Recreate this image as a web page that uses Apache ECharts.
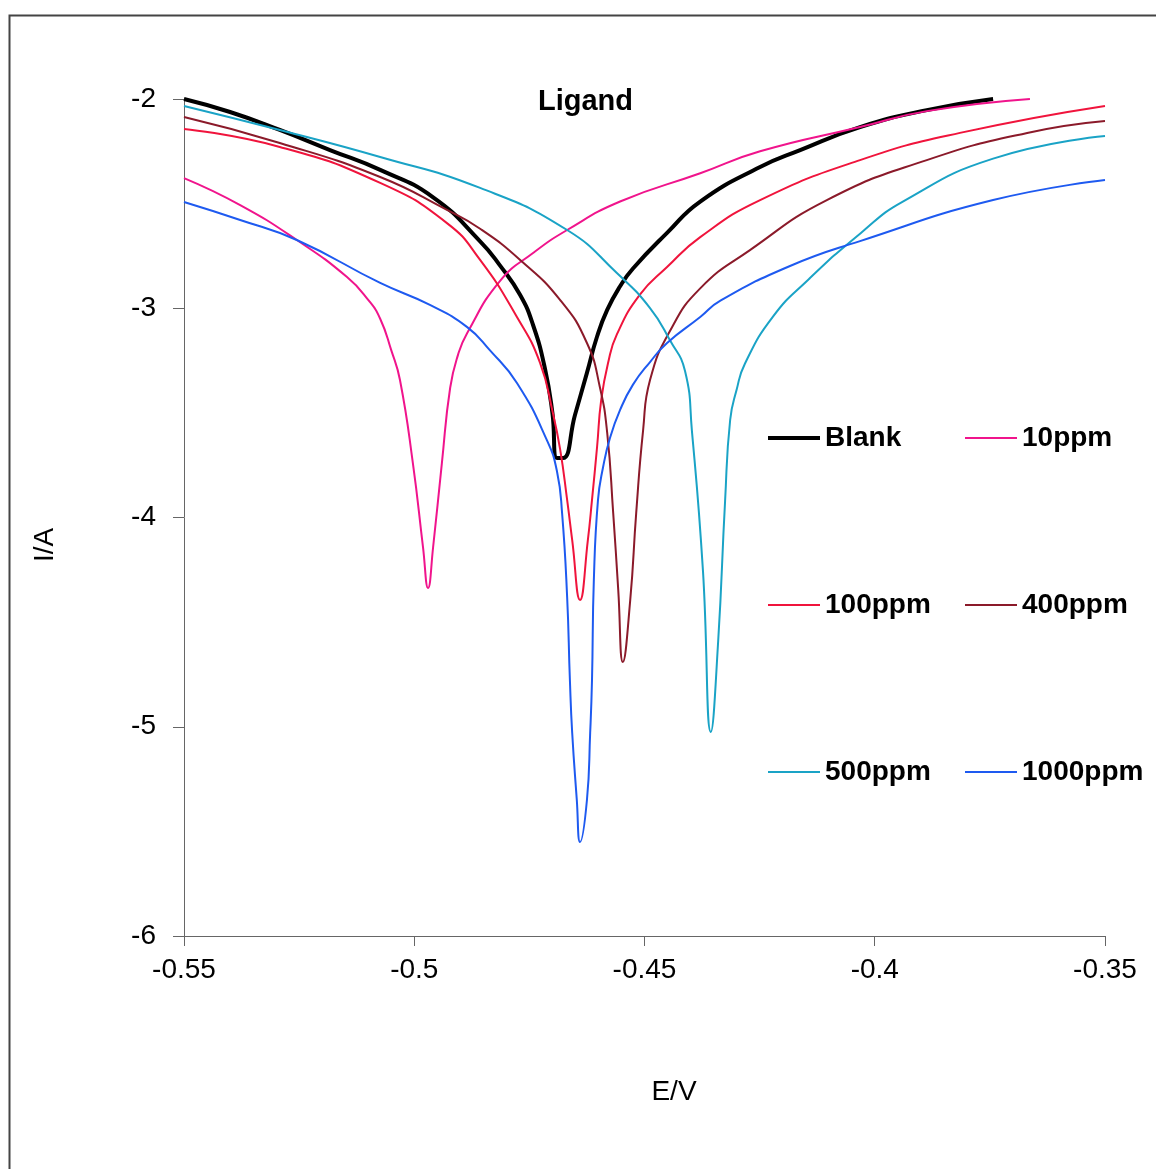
<!DOCTYPE html>
<html><head><meta charset="utf-8">
<script src="https://cdn.jsdelivr.net/npm/echarts@6/dist/echarts.min.js"></script>
<style>html,body{margin:0;padding:0;background:#fff}#c{width:1156px;height:1169px}</style>
</head><body><div id="c"></div>
<script>
const xTicks = [-0.55, -0.5, -0.45, -0.4, -0.35];
const yTicks = [-6, -5, -4, -3, -2];
const seriesNames = ['Blank', '10ppm', '100ppm', '400ppm', '500ppm', '1000ppm'];

const blank = [[-0.55,-2.0],[-0.540,-2.062],[-0.5292,-2.148],[-0.5183,-2.244],[-0.5074,-2.339],[-0.4959,-2.470],[-0.4857,-2.680],[-0.4814,-2.795],[-0.4770,-2.937],[-0.4742,-3.080],[-0.4716,-3.290],[-0.4700,-3.500],[-0.4690,-3.716],[-0.4677,-3.716],[-0.4651,-3.510],[-0.4625,-3.309],[-0.4603,-3.135],[-0.4581,-3.008],[-0.4553,-2.895],[-0.4525,-2.810],[-0.4451,-2.640],[-0.4379,-2.490],[-0.4249,-2.325],[-0.4162,-2.244],[-0.4032,-2.134],[-0.3887,-2.053],[-0.3743,-2.0]];
const ppm10 = [[-0.55,-2.378],[-0.5378,-2.507],[-0.5255,-2.674],[-0.5146,-2.851],[-0.5100,-2.960],[-0.5074,-3.050],[-0.5050,-3.200],[-0.5031,-3.343],[-0.5003,-3.740],[-0.4981,-4.141],[-0.4970,-4.337],[-0.4959,-4.141],[-0.4940,-3.740],[-0.4922,-3.380],[-0.4905,-3.223],[-0.4885,-3.118],[-0.4814,-2.870],[-0.4742,-2.736],[-0.4668,-2.626],[-0.4553,-2.490],[-0.4379,-2.355],[-0.4249,-2.250],[-0.4032,-2.134],[-0.3887,-2.058],[-0.3663,-2.0]];
const ppm100 = [[-0.55,-2.143],[-0.5292,-2.229],[-0.5074,-2.401],[-0.4929,-2.593],[-0.4857,-2.769],[-0.4777,-3.042],[-0.4727,-3.260],[-0.4699,-3.500],[-0.4683,-3.677],[-0.4668,-3.916],[-0.4657,-4.108],[-0.4640,-4.394],[-0.4623,-4.108],[-0.4614,-3.916],[-0.4603,-3.663],[-0.4594,-3.438],[-0.4579,-3.260],[-0.4560,-3.125],[-0.4510,-2.935],[-0.4451,-2.803],[-0.4379,-2.660],[-0.4249,-2.483],[-0.4032,-2.292],[-0.3815,-2.162],[-0.35,-2.033]];
const ppm400 = [[-0.55,-2.086],[-0.5292,-2.210],[-0.5074,-2.373],[-0.4929,-2.530],[-0.4857,-2.620],[-0.4770,-2.769],[-0.4683,-2.961],[-0.4625,-3.166],[-0.4597,-3.376],[-0.4581,-3.596],[-0.4568,-3.978],[-0.4557,-4.347],[-0.4547,-4.691],[-0.4531,-4.395],[-0.4518,-3.978],[-0.4503,-3.582],[-0.4488,-3.343],[-0.4445,-3.110],[-0.4379,-2.905],[-0.4271,-2.722],[-0.4104,-2.483],[-0.3887,-2.292],[-0.3669,-2.162],[-0.35,-2.105]];
const ppm500 = [[-0.55,-2.033],[-0.5292,-2.148],[-0.5074,-2.277],[-0.4857,-2.425],[-0.4668,-2.626],[-0.4560,-2.832],[-0.4488,-2.999],[-0.4445,-3.152],[-0.4412,-3.300],[-0.4397,-3.587],[-0.4373,-4.256],[-0.4356,-5.025],[-0.4340,-4.590],[-0.4325,-3.921],[-0.4314,-3.534],[-0.4300,-3.390],[-0.4282,-3.265],[-0.4221,-3.040],[-0.4145,-2.865],[-0.4030,-2.640],[-0.3939,-2.490],[-0.3743,-2.285],[-0.35,-2.177]];
const ppm1000 = [[-0.55,-2.492],[-0.5378,-2.578],[-0.5255,-2.674],[-0.5074,-2.879],[-0.4966,-2.984],[-0.4885,-3.090],[-0.4836,-3.200],[-0.4777,-3.357],[-0.4712,-3.630],[-0.4690,-3.780],[-0.4679,-3.978],[-0.4668,-4.380],[-0.4662,-4.777],[-0.4657,-5.030],[-0.4647,-5.350],[-0.4640,-5.551],[-0.4625,-5.350],[-0.4618,-5.030],[-0.4614,-4.777],[-0.4610,-4.299],[-0.4601,-3.916],[-0.4590,-3.760],[-0.4575,-3.620],[-0.4553,-3.486],[-0.4525,-3.365],[-0.4488,-3.257],[-0.4451,-3.166],[-0.4379,-3.042],[-0.4336,-2.965],[-0.4184,-2.798],[-0.4032,-2.679],[-0.3743,-2.483],[-0.35,-2.387]];

const dataSets = [blank, ppm10, ppm100, ppm400, ppm500, ppm1000];
const colors = ['#000000', '#f0148c', '#f0143c', '#8b1a2a', '#1aa3c6', '#1e5af0'];
const widths = [4, 2, 2, 2, 2, 2];
const FONT = '"Liberation Sans", Arial, sans-serif';

const legendPos = [[768, 424], [965, 424], [768, 591], [965, 591], [768, 758], [965, 758]];

const chart = echarts.init(document.getElementById('c'), null, {renderer: 'canvas'});
chart.setOption({
  animation: false,
  backgroundColor: '#fff',
  textStyle: {fontFamily: FONT},
  title: {text: 'Ligand', left: 533, top: 82, textStyle: {fontFamily: FONT, fontSize: 29, fontWeight: 'bold', color: '#000'}},
  grid: {left: 184, top: 99, right: 51, bottom: 233, containLabel: false},
  xAxis: {
    type: 'value', min: xTicks[0], max: xTicks[xTicks.length - 1], interval: 0.05,
    axisLine: {onZero: false, lineStyle: {color: '#666', width: 1}},
    axisTick: {length: 10, lineStyle: {color: '#666'}},
    splitLine: {show: false},
    axisLabel: {margin: 20, fontSize: 28, color: '#000', fontFamily: FONT,
      formatter: v => String(+(+v).toFixed(2))}
  },
  yAxis: {
    type: 'value', min: yTicks[0], max: yTicks[yTicks.length - 1], interval: 1,
    axisLine: {onZero: false, lineStyle: {color: '#666', width: 1}},
    axisTick: {length: 11, lineStyle: {color: '#666'}},
    splitLine: {show: false},
    axisLabel: {margin: 28, fontSize: 28, color: '#000', fontFamily: FONT}
  },
  legend: seriesNames.map((n, i) => ({
    data: [{name: n, icon: 'rect'}],
    left: legendPos[i][0], top: legendPos[i][1],
    itemWidth: 52, itemHeight: widths[i] === 4 ? 4 : 2, padding: 0,
    textStyle: {fontSize: 28, fontWeight: 'bold', color: '#000', fontFamily: FONT}
  })),
  graphic: [
    {type: 'rect', left: 7, top: 13, shape: {width: 1300, height: 1300}, style: {fill: 'none', stroke: '#444', lineWidth: 2}, silent: true},
    {type: 'text', x: 674, y: 1092, style: {text: 'E/V', font: '28px ' + FONT, fill: '#000', textAlign: 'center', textVerticalAlign: 'middle'}},
    {type: 'text', x: 45, y: 545, rotation: Math.PI / 2, style: {text: 'I/A', font: '28px ' + FONT, fill: '#000', textAlign: 'center', textVerticalAlign: 'middle'}}
  ],
  series: dataSets.map((d, i) => ({
    name: seriesNames[i], type: 'line', data: d, showSymbol: false, symbol: 'none',
    smooth: 0.5, clip: true,
    lineStyle: {color: colors[i], width: widths[i]}, itemStyle: {color: colors[i]}
  }))
});
</script></body></html>
